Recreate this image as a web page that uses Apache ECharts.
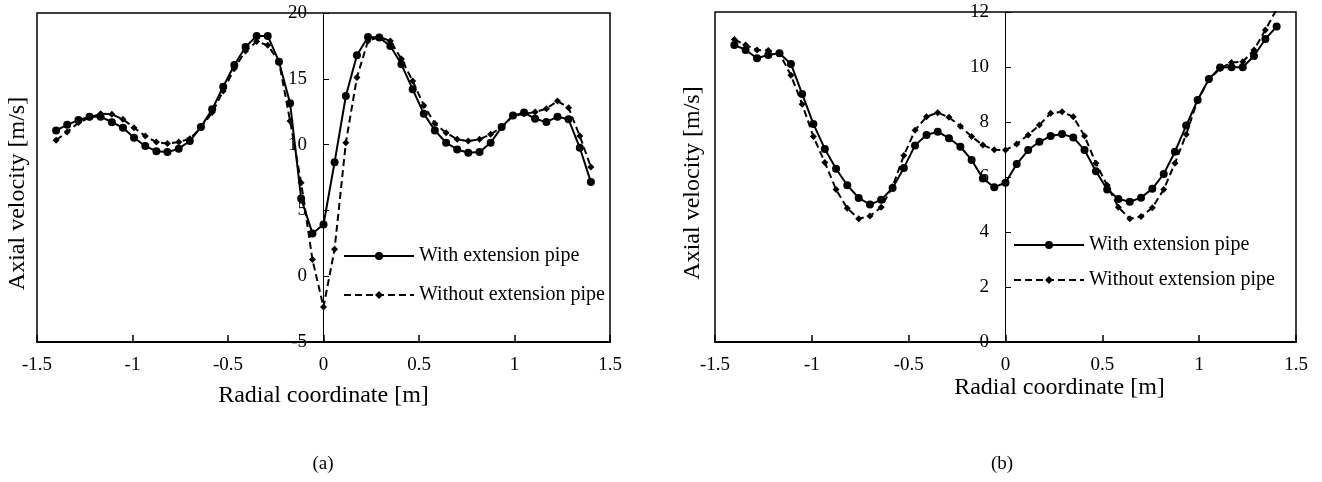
<!DOCTYPE html>
<html>
<head>
<meta charset="utf-8">
<script src="https://cdn.jsdelivr.net/npm/echarts@6/dist/echarts.min.js"></script>
<style>
html,body{margin:0;padding:0;background:#fff;}
#chart{width:1322px;height:482px;}
</style>
</head>
<body>
<div id="chart"></div>
<script>
// Radial coordinate [m] of the measurement points
const radial = [-1.4, -1.342, -1.283, -1.225, -1.167, -1.108, -1.05, -0.992, -0.933, -0.875,
  -0.817, -0.758, -0.7, -0.642, -0.583, -0.525, -0.467, -0.408, -0.35, -0.292,
  -0.233, -0.175, -0.117, -0.058, 0, 0.058, 0.117, 0.175, 0.233, 0.292,
  0.35, 0.408, 0.467, 0.525, 0.583, 0.642, 0.7, 0.758, 0.817, 0.875,
  0.933, 0.992, 1.05, 1.108, 1.167, 1.225, 1.283, 1.342, 1.4];

// (a) axial velocity [m/s]
const aWith = [11.08, 11.5, 11.86, 12.12, 12.12, 11.7, 11.28, 10.52, 9.89, 9.5,
  9.43, 9.69, 10.27, 11.33, 12.68, 14.4, 16.05, 17.42, 18.26, 18.26,
  16.3, 13.15, 5.9, 3.25, 3.93, 8.65, 13.69, 16.79, 18.18, 18.13,
  17.5, 16.1, 14.2, 12.35, 11.08, 10.14, 9.63, 9.38, 9.43, 10.14,
  11.33, 12.22, 12.43, 11.97, 11.71, 12.12, 11.92, 9.76, 7.15];
const aWithout = [10.34, 10.95, 11.67, 12.05, 12.35, 12.3, 11.92, 11.28, 10.65, 10.19,
  10.09, 10.19, 10.45, 11.28, 12.43, 14.07, 15.78, 17.12, 17.83, 17.55,
  16.3, 11.8, 7.1, 1.26, -2.34, 2.05, 10.14, 15.1, 17.88, 18.18,
  17.88, 16.5, 14.83, 12.98, 11.61, 10.9, 10.4, 10.27, 10.4, 10.78,
  11.33, 12.17, 12.35, 12.47, 12.73, 13.31, 12.8, 10.65, 8.29];

// (b) axial velocity [m/s]
const bWith = [10.8, 10.62, 10.32, 10.44, 10.5, 10.11, 9.02, 7.93, 7.02, 6.3,
  5.7, 5.24, 5.0, 5.17, 5.6, 6.33, 7.15, 7.53, 7.65, 7.41,
  7.1, 6.62, 5.95, 5.63, 5.79, 6.47, 6.98, 7.28, 7.49, 7.56,
  7.44, 6.98, 6.21, 5.55, 5.2, 5.1, 5.25, 5.57, 6.11, 6.92,
  7.87, 8.8, 9.56, 9.98, 9.99, 9.99, 10.4, 11.02, 11.47];
const bWithout = [11.0, 10.8, 10.62, 10.6, 10.5, 9.7, 8.65, 7.47, 6.53, 5.55,
  4.86, 4.48, 4.58, 4.9, 5.65, 6.78, 7.7, 8.19, 8.34, 8.17,
  7.85, 7.47, 7.16, 6.99, 6.98, 7.2, 7.53, 7.89, 8.32, 8.37,
  8.19, 7.49, 6.5, 5.7, 4.9, 4.48, 4.56, 4.88, 5.55, 6.5,
  7.55, 8.8, 9.53, 9.95, 10.16, 10.19, 10.62, 11.35, 12.1];

const seriesNames = ['With extension pipe', 'Without extension pipe'];
const xName = 'Radial coordinate [m]';
const yName = 'Axial velocity [m/s]';
const panelLabels = ['(a)', '(b)'];

const FONT = '"Liberation Serif", "Times New Roman", serif';
const pairs = (xs, ys) => xs.map((x, i) => [x, ys[i]]);

function xAxisOpt(gi, nameGap, pad) {
  return {
    type: 'value', gridIndex: gi, min: -1.5, max: 1.5, interval: 0.5,
    axisLine: { onZero: false, lineStyle: { color: '#000', width: 2 } },
    axisTick: { inside: true, length: 7, lineStyle: { color: '#000', width: 1.5 } },
    axisLabel: { color: '#000', fontSize: 19, fontFamily: FONT, margin: 14 },
    splitLine: { show: false },
    name: xName, nameLocation: 'middle', nameGap: nameGap, nameMoveOverlap: false,
    nameTextStyle: { color: '#000', fontSize: 24, fontFamily: FONT, padding: pad }
  };
}
function yAxisOpt(gi, min, max, interval, offset, nameGap, pad) {
  return {
    type: 'value', gridIndex: gi, min: min, max: max, interval: interval,
    offset: offset,
    axisLine: { onZero: false, lineStyle: { color: '#000', width: 1 } },
    axisTick: { inside: true, length: 6, lineStyle: { color: '#000', width: 1 } },
    axisLabel: { color: '#000', fontSize: 19, fontFamily: FONT, margin: 16 },
    splitLine: { show: false },
    name: yName, nameLocation: 'middle', nameGap: nameGap, nameMoveOverlap: false,
    nameTextStyle: { color: '#000', fontSize: 24, fontFamily: FONT, padding: pad }
  };
}
function lineSeries(name, gi, ys, dashed) {
  return {
    type: 'line', name: name, xAxisIndex: gi, yAxisIndex: gi,
    data: pairs(radial, ys),
    symbol: dashed ? 'diamond' : 'circle',
    symbolSize: dashed ? 7 : 8,
    showSymbol: true,
    lineStyle: { color: '#000', width: 2, type: dashed ? [7, 4] : 'solid' },
    itemStyle: { color: '#000' },
    emphasis: { disabled: true },
    z: dashed ? 3 : 4
  };
}
function legendOpt(left, top, gap) {
  return {
    orient: 'vertical', left: left, top: top, itemGap: gap, padding: 0,
    itemWidth: 70, itemHeight: 10, data: seriesNames,
    textStyle: { color: '#000', fontSize: 20, fontFamily: FONT, lineHeight: 20 },
    selectedMode: false
  };
}

const chart = echarts.init(document.getElementById('chart'), null, { renderer: 'canvas' });
chart.setOption({
  animation: false,
  backgroundColor: '#fff',
  title: [
    { text: panelLabels[0], left: 323, top: 455, textAlign: 'center', padding: 0,
      textStyle: { color: '#000', fontSize: 19, fontWeight: 'normal', fontFamily: FONT } },
    { text: panelLabels[1], left: 1002, top: 455, textAlign: 'center', padding: 0,
      textStyle: { color: '#000', fontSize: 19, fontWeight: 'normal', fontFamily: FONT } }
  ],
  grid: [
    { left: 37, top: 13, width: 573, height: 329, show: true, borderColor: '#000', borderWidth: 1.5, outerBoundsMode: 'none' },
    { left: 715, top: 12, width: 581, height: 330, show: true, borderColor: '#000', borderWidth: 1.5, outerBoundsMode: 'none' }
  ],
  legend: [legendOpt(343, 246, 19), legendOpt(1013, 235, 15)],
  xAxis: [xAxisOpt(0, 42, [0, 0, 0, 0]), xAxisOpt(1, 34, [0, 0, 0, 108])],
  yAxis: [yAxisOpt(0, -5, 20, 5, -286, 293, [0, 32, 0, 0]), yAxisOpt(1, 0, 12, 2, -290, 300, [0, 12, 0, 0])],
  series: [
    lineSeries(seriesNames[0], 0, aWith, false),
    lineSeries(seriesNames[1], 0, aWithout, true),
    lineSeries(seriesNames[0], 1, bWith, false),
    lineSeries(seriesNames[1], 1, bWithout, true)
  ]
});
</script>
</body>
</html>
